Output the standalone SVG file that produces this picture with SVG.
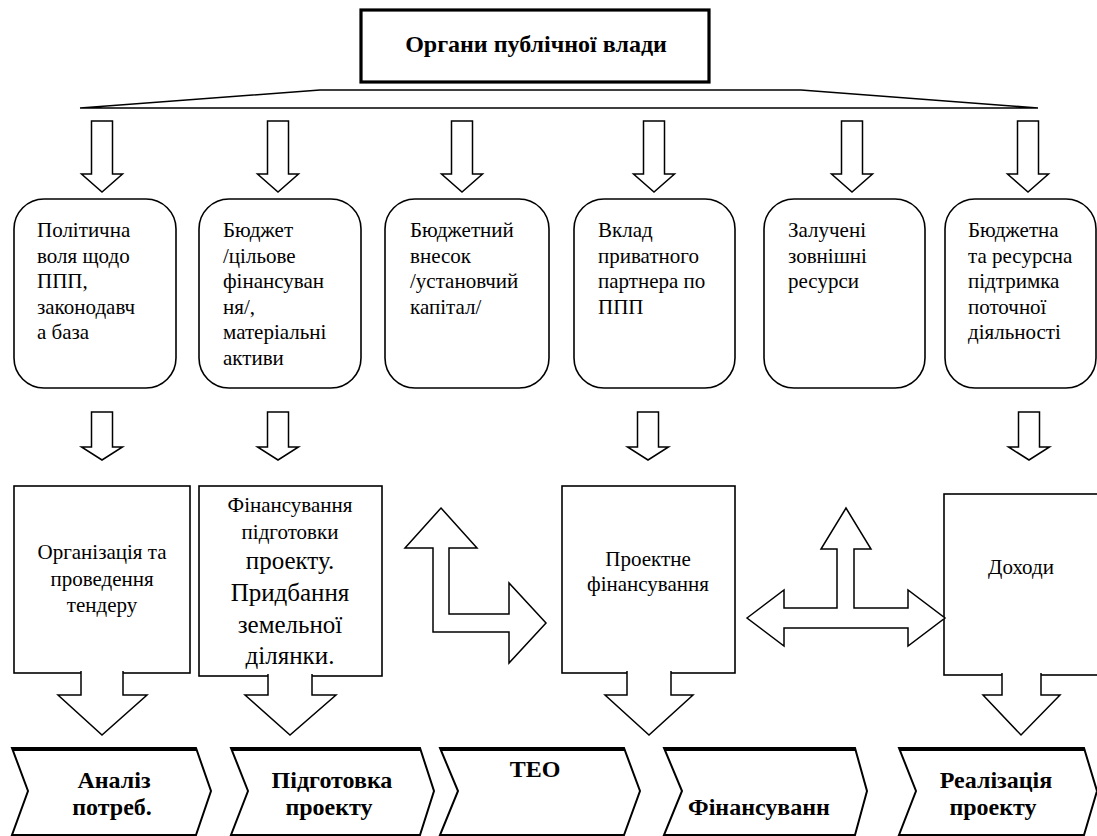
<svg xmlns="http://www.w3.org/2000/svg" width="1097" height="836" viewBox="0 0 1097 836" font-family="'Liberation Serif', 'DejaVu Serif', serif">
<style>
  .bx{fill:#fff;stroke:#000;stroke-width:1.6}
  .ar{fill:#fff;stroke:#000;stroke-width:1.5;stroke-linejoin:miter}
  text{font-family:'Liberation Serif','DejaVu Serif',serif;fill:#000}
  .t{font-size:21px}
  .tc{font-size:21px;text-anchor:middle}
  .tb{font-size:24px;font-weight:bold;text-anchor:middle}
  .big{font-size:25px}
  .chev{fill:#fff;stroke:#000;stroke-width:2;stroke-linejoin:miter}
  .chevtop{fill:none;stroke:#000;stroke-width:4;stroke-linecap:butt}
</style>
<rect width="1097" height="836" fill="#fff"/>

<g id="authority">
  <rect x="361" y="10" width="348" height="72" fill="#fff" stroke="#000" stroke-width="3.2"/>
  <text class="tb" x="536" y="52">Органи публічної влади</text>
</g>

<g id="bracket">
  <polygon class="ar" points="80,108 320,90 801,90 1038,108"/>
</g>

<g id="box1">
  <rect class="bx" x="14" y="199" width="162" height="189" rx="30"/>
  <text class="t" x="37" y="237">Політична</text>
  <text class="t" x="37" y="262.5">воля щодо</text>
  <text class="t" x="37" y="288">ППП,</text>
  <text class="t" x="37" y="313.5">законодавч</text>
  <text class="t" x="37" y="339">а база</text>
</g>
<g id="box2">
  <rect class="bx" x="199" y="199" width="162" height="189" rx="30"/>
  <text class="t" x="223" y="237">Бюджет</text>
  <text class="t" x="223" y="262.5">/цільове</text>
  <text class="t" x="223" y="288">фінансуван</text>
  <text class="t" x="223" y="313.5">ня/,</text>
  <text class="t" x="223" y="339">матеріальні</text>
  <text class="t" x="223" y="364.5">активи</text>
</g>
<g id="box3">
  <rect class="bx" x="385" y="199" width="164" height="189" rx="30"/>
  <text class="t" x="410" y="237">Бюджетний</text>
  <text class="t" x="410" y="262.5">внесок</text>
  <text class="t" x="410" y="288">/установчий</text>
  <text class="t" x="410" y="313.5">капітал/</text>
</g>
<g id="box4">
  <rect class="bx" x="574" y="199" width="161" height="189" rx="30"/>
  <text class="t" x="598" y="237">Вклад</text>
  <text class="t" x="598" y="262.5">приватного</text>
  <text class="t" x="598" y="288">партнера по</text>
  <text class="t" x="598" y="313.5">ППП</text>
</g>
<g id="box5">
  <rect class="bx" x="764" y="199" width="161" height="189" rx="30"/>
  <text class="t" x="788" y="237">Залучені</text>
  <text class="t" x="788" y="262.5">зовнішні</text>
  <text class="t" x="788" y="288">ресурси</text>
</g>
<g id="box6">
  <rect class="bx" x="945" y="199" width="151" height="189" rx="30"/>
  <text class="t" x="968" y="237">Бюджетна</text>
  <text class="t" x="968" y="262.5">та ресурсна</text>
  <text class="t" x="968" y="288">підтримка</text>
  <text class="t" x="968" y="313.5">поточної</text>
  <text class="t" x="968" y="339">діяльності</text>
</g>

<g id="tender">
  <rect class="bx" x="14" y="486" width="176" height="187"/>
  <text class="tc" x="102" y="559">Організація та</text>
  <text class="tc" x="102" y="586">проведення</text>
  <text class="tc" x="102" y="612">тендеру</text>
</g>
<g id="prep-finance">
  <rect class="bx" x="199" y="486" width="183" height="190"/>
  <text class="tc" x="290" y="512">Фінансування</text>
  <text class="tc" x="290" y="539">підготовки</text>
  <text class="tc big" x="290" y="569">проекту.</text>
  <text class="tc big" x="290" y="601">Придбання</text>
  <text class="tc big" x="290" y="633">земельної</text>
  <text class="tc big" x="290" y="664">ділянки.</text>
</g>
<g id="project-finance">
  <rect class="bx" x="562" y="486" width="173" height="187"/>
  <text class="tc" x="648" y="566">Проектне</text>
  <text class="tc" x="648" y="591">фінансування</text>
</g>
<g id="income">
  <rect class="bx" x="944" y="494" width="160" height="181"/>
  <text class="tc" x="1021" y="574">Доходи</text>
</g>

<g id="stage1">
  <polygon class="chev" points="12,748 196,748 211,791 196,835 12,835 28,791"/>
  <line class="chevtop" x1="12" y1="749" x2="196" y2="749"/>
  <text class="tb" x="114" y="788">Аналіз</text>
  <text class="tb" x="112" y="815">потреб.</text>
</g>
<g id="stage2">
  <polygon class="chev" points="231,748 420,748 434,791 420,835 231,835 248,791"/>
  <line class="chevtop" x1="231" y1="749" x2="420" y2="749"/>
  <text class="tb" x="332" y="788">Підготовка</text>
  <text class="tb" x="329" y="815">проекту</text>
</g>
<g id="stage3">
  <polygon class="chev" points="440,748 624,748 640,791 624,835 440,835 458,791"/>
  <line class="chevtop" x1="440" y1="749" x2="624" y2="749"/>
  <text class="tb" x="535" y="777">ТЕО</text>
</g>
<g id="stage4">
  <polygon class="chev" points="664,748 855,748 867,791 855,835 664,835 682,791"/>
  <line class="chevtop" x1="664" y1="749" x2="855" y2="749"/>
  <text class="tb" x="759" y="815">Фінансуванн</text>
</g>
<g id="stage5">
  <polygon class="chev" points="899,748 1084,748 1097,791 1084,835 899,835 916,791"/>
  <line class="chevtop" x1="899" y1="749" x2="1084" y2="749"/>
  <text class="tb" x="996" y="788">Реалізація</text>
  <text class="tb" x="993" y="815">проекту</text>
</g>

<g id="connectors">
  <polygon class="ar" points="91.5,121 112.5,121 112.5,174 122.5,174 102,192 81.5,174 91.5,174"/>
  <polygon class="ar" points="267.5,121 288.5,121 288.5,174 298.5,174 278,192 257.5,174 267.5,174"/>
  <polygon class="ar" points="451.5,121 472.5,121 472.5,174 482.5,174 462,192 441.5,174 451.5,174"/>
  <polygon class="ar" points="643.5,121 664.5,121 664.5,174 674.5,174 654,192 633.5,174 643.5,174"/>
  <polygon class="ar" points="841.5,121 862.5,121 862.5,174 872.5,174 852,192 831.5,174 841.5,174"/>
  <polygon class="ar" points="1017.5,121 1038.5,121 1038.5,174 1048.5,174 1028,192 1007.5,174 1017.5,174"/>
  <polygon class="ar" points="91.5,412 112.5,412 112.5,447 122.5,447 102,460 81.5,447 91.5,447"/>
  <polygon class="ar" points="267.5,412 288.5,412 288.5,447 298.5,447 278,460 257.5,447 267.5,447"/>
  <polygon class="ar" points="637.5,412 658.5,412 658.5,447 668.5,447 648,460 627.5,447 637.5,447"/>
  <polygon class="ar" points="1018.5,412 1039.5,412 1039.5,447 1049.5,447 1029,460 1008.5,447 1018.5,447"/>
  <path class="ar" d="M81,671 L81,695 L58,695 L102,735 L147,695 L123,695 L123,671"/>
  <path class="ar" d="M268,674 L268,695 L245,695 L290,735 L336,695 L312,695 L312,674"/>
  <path class="ar" d="M627,671 L627,695 L605,695 L649,735 L693,695 L671,695 L671,671"/>
  <path class="ar" d="M1002,673 L1002,695 L983,695 L1021,735 L1060,695 L1041,695 L1041,673"/>
  <polygon class="ar" points="441,508 477,548 449,548 449,614 509,614 509,583 546,623 509,663 509,632 433,632 433,548 405,548"/>
  <polygon class="ar" points="747,618 784,590 784,608 837,608 837,549 821,549 846,508 871,549 854,549 854,608 908,608 908,590 945,618 908,646 908,628 784,628 784,646"/>
</g>
</svg>
